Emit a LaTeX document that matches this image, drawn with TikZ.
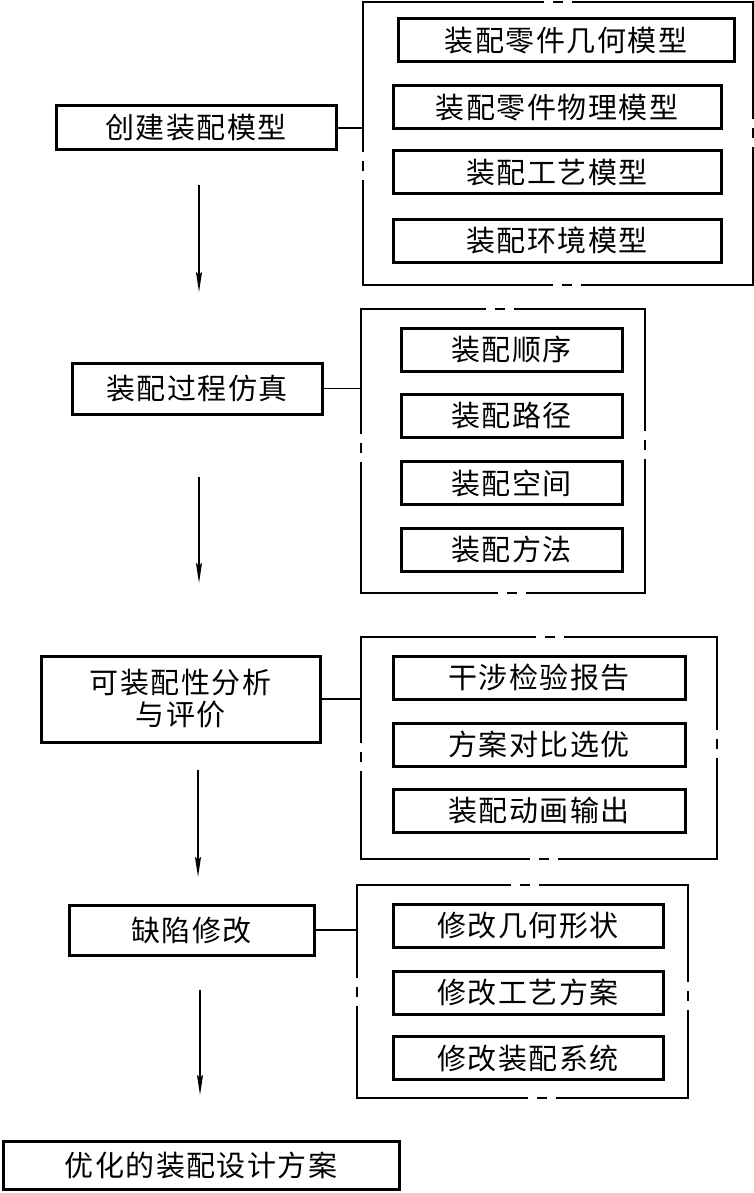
\documentclass[tikz,border=0pt]{standalone}
\usepackage{fontspec}
\newfontfamily\cjk{Noto Sans CJK SC}[LetterSpace=5]
\usetikzlibrary{arrows.meta}
\tikzset{
  box/.style={draw, line width=3pt, inner sep=0pt, outer sep=0pt, align=center,
    font=\cjk\fontsize{29}{32}\selectfont},
  grp/.style={draw=none, inner sep=0pt, outer sep=0pt},
  thinln/.style={line width=1.6pt},
  flow/.style={line width=1.6pt, -{Stealth[length=20pt,width=6pt,inset=3pt]}}
}
% x1 y1 x2 y2 topgap rightgap leftgap bottomgap
\newcommand\gapbox[8]{%
  \draw[thinln] (#1,#2) -- (#5-14,#2) (#5-5,#2) -- (#5+5,#2) (#5+14,#2) -- (#3,#2)
    -- (#3,#6-14) (#3,#6-5) -- (#3,#6+5) (#3,#6+14) -- (#3,#4)
    -- (#8+14,#4) (#8+5,#4) -- (#8-5,#4) (#8-14,#4) -- (#1,#4)
    -- (#1,#7+14) (#1,#7+5) -- (#1,#7-5) (#1,#7-14) -- (#1,#2-0.8);}
\begin{document}
\begin{tikzpicture}[x=1pt,y=-1pt]
\useasboundingbox (0,0) rectangle (754,1193);
\fill[white] (0,0) rectangle (754,1193);

% group 1
\node[box, minimum width=280pt, minimum height=44pt] (a1) at (196,128) {创建装配模型};
\node[grp, minimum width=389pt, minimum height=283pt] (g1) at (558,143.5) {};
\gapbox{363}{2}{753}{285}{558}{133}{166}{567}
\node[box, minimum width=336pt, minimum height=43pt] (i11) at (566,40.5) {装配零件几何模型};
\node[box, minimum width=328pt, minimum height=43pt] (i12) at (557,107.5) {装配零件物理模型};
\node[box, minimum width=328pt, minimum height=43pt] (i13) at (557,172.5) {装配工艺模型};
\node[box, minimum width=328pt, minimum height=43pt] (i14) at (557,240.5) {装配环境模型};
\draw[thinln] (a1.east) -- (a1.east -| g1.west);
\coordinate (s1) at (199,185);
\coordinate (e1) at (199,292);
\draw[flow] (s1) -- (e1);

% group 2
\node[box, minimum width=250pt, minimum height=51pt] (a2) at (197,388.5) {装配过程仿真};
\node[grp, minimum width=284pt, minimum height=284pt] (g2) at (503,451) {};
\gapbox{361}{309}{645}{593}{500}{445}{448}{512}
\node[box, minimum width=221pt, minimum height=43pt] (i21) at (511.5,349.5) {装配顺序};
\node[box, minimum width=221pt, minimum height=43pt] (i22) at (511.5,415.5) {装配路径};
\node[box, minimum width=221pt, minimum height=43pt] (i23) at (511.5,483) {装配空间};
\node[box, minimum width=221pt, minimum height=43pt] (i24) at (511.5,549.5) {装配方法};
\draw[thinln] (a2.east) -- (a2.east -| g2.west);
\coordinate (s2) at (199,477);
\coordinate (e2) at (199,583);
\draw[flow] (s2) -- (e2);

% group 3
\node[box, minimum width=279pt, minimum height=86pt] (a3) at (180.5,699) {可装配性分析\\与评价};
\node[grp, minimum width=356pt, minimum height=222pt] (g3) at (539,748) {};
\gapbox{361}{637}{717}{859}{550}{744}{757}{544}
\node[box, minimum width=292pt, minimum height=43pt] (i31) at (539,677.5) {干涉检验报告};
\node[box, minimum width=292pt, minimum height=43pt] (i32) at (539,744.5) {方案对比选优};
\node[box, minimum width=292pt, minimum height=43pt] (i33) at (539,810.5) {装配动画输出};
\draw[thinln] (a3.east) -- (a3.east -| g3.west);
\coordinate (s3) at (198,770);
\coordinate (e3) at (198,877);
\draw[flow] (s3) -- (e3);

% group 4
\node[box, minimum width=245pt, minimum height=50pt] (a4) at (191.5,930) {缺陷修改};
\node[grp, minimum width=331pt, minimum height=213pt] (g4) at (522.5,991.5) {};
\gapbox{357}{885}{688}{1098}{525}{996}{992}{542}
\node[box, minimum width=270pt, minimum height=43pt] (i41) at (528,925.5) {修改几何形状};
\node[box, minimum width=270pt, minimum height=43pt] (i42) at (528,992.5) {修改工艺方案};
\node[box, minimum width=270pt, minimum height=43pt] (i43) at (528,1058) {修改装配系统};
\draw[thinln] (a4.east) -- (a4.east -| g4.west);
\coordinate (s4) at (200,990);
\coordinate (e4) at (200,1095);
\draw[flow] (s4) -- (e4);

% final
\node[box, minimum width=396pt, minimum height=48pt] (fin) at (201,1165.5) {优化的装配设计方案};
\end{tikzpicture}
\end{document}
